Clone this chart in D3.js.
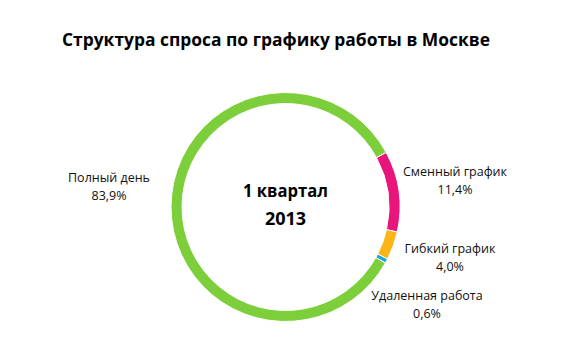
<!DOCTYPE html>
<meta charset="utf-8" />
<script src="https://d3js.org/d3.v7.min.js"></script>
<style>
  body { margin: 0; background: #fff; }
  text { font-family: "Open Sans", "Liberation Sans", sans-serif; }
</style>
<div id="chart"></div>
<script>
  // data
  const categories = ["Полный день", "Сменный график", "Гибкий график", "Удаленная работа"];
  const values = [83.9, 11.4, 4.0, 0.6];
  const valueLabels = ["83,9%", "11,4%", "4,0%", "0,6%"];
  const colors = ["#7ccf3a", "#e8157c", "#fbb514", "#1fa3d8"];

  const width = 586, height = 337;
  const cx = 285.5, cy = 207;
  const outerR = 114.5, innerR = 103.5;

  // label anchor points (centre of the two text lines)
  const labelPos = [[109, 178], [455, 172], [450, 249], [427, 296]];

  const svg = d3.select("#chart").append("svg")
    .attr("width", width)
    .attr("height", height);

  svg.append("text")
    .attr("x", 276)
    .attr("y", 46)
    .attr("text-anchor", "middle")
    .style("font-size", "18px")
    .style("font-weight", "bold")
    .attr("textLength", 428)
    .attr("lengthAdjust", "spacingAndGlyphs")
    .text("Структура  спроса по графику  работы  в Москве");

  const start = 119.2 * Math.PI / 180;
  const pie = d3.pie().sort(null).value(d => d)
    .startAngle(start).endAngle(start + 2 * Math.PI);
  const arc = d3.arc().innerRadius(innerR).outerRadius(outerR);

  const g = svg.append("g").attr("transform", `translate(${cx},${cy})`);
  g.selectAll("path")
    .data(pie(values))
    .join("path")
    .attr("d", arc)
    .attr("fill", (d, i) => colors[i])
    .attr("stroke", "#fff")
    .attr("stroke-width", 1);

  // centre text
  g.append("text")
    .attr("y", -10)
    .attr("text-anchor", "middle")
    .style("font-size", "18px")
    .style("font-weight", "bold")
    .attr("textLength", 85)
    .attr("lengthAdjust", "spacingAndGlyphs")
    .text("1 квартал");
  g.append("text")
    .attr("y", 18)
    .attr("text-anchor", "middle")
    .style("font-size", "18px")
    .style("font-weight", "bold")
    .text("2013");

  // labels
  const lab = svg.selectAll("g.lab")
    .data(categories)
    .join("g")
    .attr("class", "lab")
    .attr("transform", (d, i) => `translate(${labelPos[i][0]},${labelPos[i][1]})`);
  lab.append("text")
    .attr("text-anchor", "middle")
    .attr("dy", "0.35em")
    .style("font-size", "12.5px")
    .style("fill", "#111")
    .text(d => d);
  lab.append("text")
    .attr("text-anchor", "middle")
    .attr("y", 18)
    .attr("dy", "0.35em")
    .style("font-size", "12.5px")
    .style("fill", "#111")
    .text((d, i) => valueLabels[i]);
</script>
